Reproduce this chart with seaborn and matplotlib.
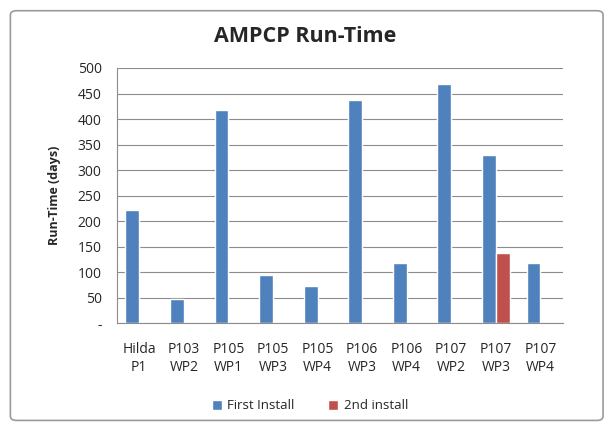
import pandas as pd
import matplotlib.pyplot as plt
import seaborn as sns
from matplotlib.patches import FancyBboxPatch
from matplotlib.ticker import FixedLocator

# Datos
categorias = ["Hilda\nP1", "P103\nWP2", "P105\nWP1", "P105\nWP3", "P105\nWP4",
              "P106\nWP3", "P106\nWP4", "P107\nWP2", "P107\nWP3", "P107\nWP4"]
primera = [221, 47, 417, 95, 72, 437, 118, 468, 329, 118]
segunda = [0, 0, 0, 0, 0, 0, 0, 0, 137, 0]
series = ["First Install", "2nd install"]

df = pd.DataFrame({
    "cat": categorias * 2,
    "valor": primera + segunda,
    "serie": [series[0]] * len(categorias) + [series[1]] * len(categorias),
})

sns.set_style("white")
plt.rcParams['font.family'] = ['Open Sans', 'DejaVu Sans']

fig = plt.figure(figsize=(6.11, 4.29), dpi=100)
ax = fig.add_axes([0.1915, 0.247, 0.7295, 0.5945])

sns.barplot(data=df, x="cat", y="valor", hue="serie", ax=ax, width=0.62,
            palette=["#4F81BD", "#C0504D"], saturation=1, legend=True)

ax.set_ylim(0, 500)
ax.set_xlim(-0.5, len(categorias) - 0.5)
ax.set_yticks(range(0, 501, 50))
ax.set_yticklabels(["-"] + [str(v) for v in range(50, 501, 50)], fontsize=10)
ax.yaxis.grid(True, color="#8c8c8c", linewidth=0.8)
ax.set_axisbelow(True)

ax.tick_params(axis="x", which="major", length=0, labelsize=10, pad=14)
ax.xaxis.set_minor_locator(FixedLocator([i - 0.5 for i in range(len(categorias) + 1)]))
ax.tick_params(axis="x", which="minor", length=5, color="#8c8c8c", direction="out")
ax.tick_params(axis="y", length=5, color="#8c8c8c", direction="out", pad=6)

for s in ["top", "right"]:
    ax.spines[s].set_visible(False)
for s in ["left", "bottom"]:
    ax.spines[s].set_color("#8c8c8c")

ax.set_xlabel("")
ax.set_ylabel("Run-Time (days)", fontsize=9, fontweight="bold", labelpad=12)
fig.text(0.5, 0.915, "AMPCP Run-Time", ha="center", va="center",
         fontsize=15.5, fontweight="bold")

leg = ax.legend(loc="center", bbox_to_anchor=(0.507, 0.054), bbox_transform=fig.transFigure,
                ncol=2, frameon=False, fontsize=9.5, handlelength=0.8, handleheight=0.8,
                columnspacing=2.5, handletextpad=0.4)

# Marco exterior del gráfico
fig.patches.append(FancyBboxPatch((0.017, 0.02), 0.97, 0.955, boxstyle="round,pad=0,rounding_size=0.01",
                                  transform=fig.transFigure, fill=False, edgecolor="#9a9a9a",
                                  linewidth=1.2))

plt.savefig("out.png", dpi=100)
plt.close()
